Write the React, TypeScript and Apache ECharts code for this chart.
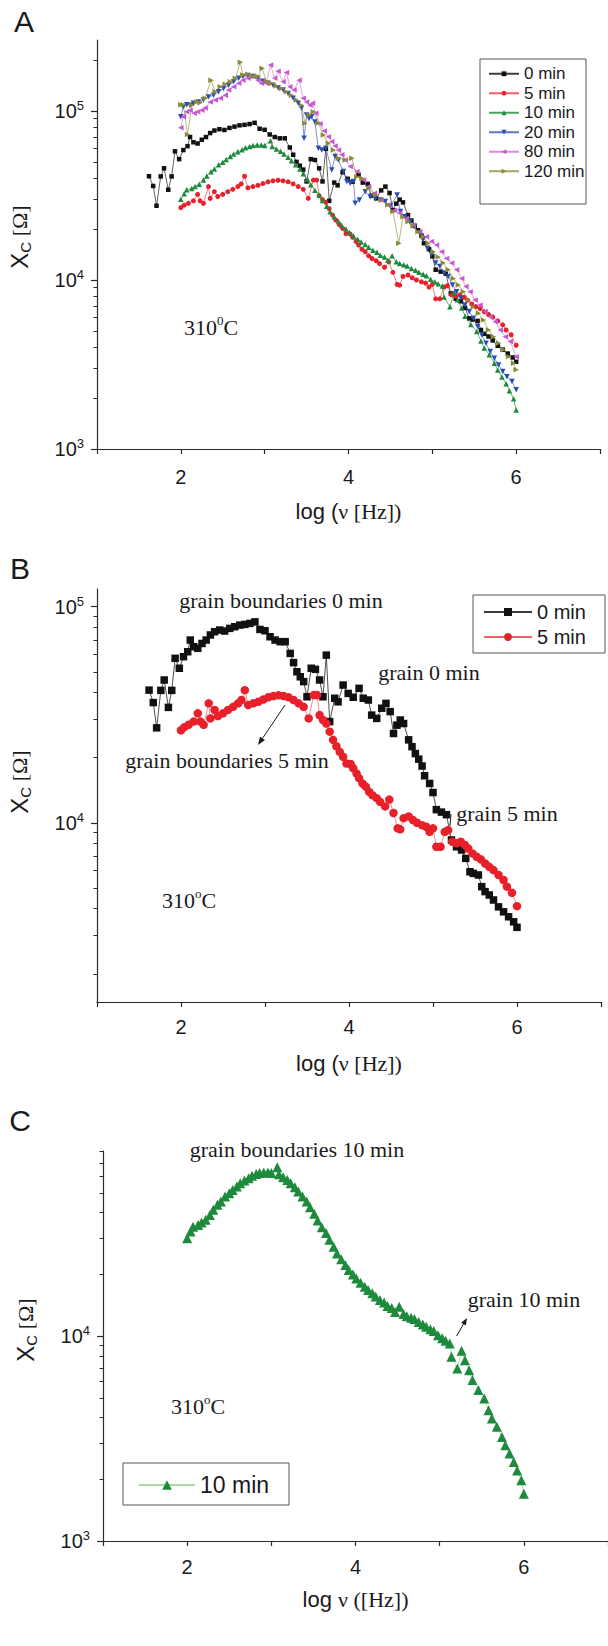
import React, { useEffect, useRef } from "react";
import * as echarts from "echarts";

// ---------- DATA: [log(frequency / Hz), X_C (Ω)] ----------
const XC_0_MIN: [number, number][] = [
  [1.62, 41100], [1.67, 36000], [1.71, 27500], [1.76, 41000], [1.8, 45800], [1.85, 34200], [1.89, 41000],
  [1.93, 57700], [1.98, 51900], [2.03, 58700], [2.08, 61900], [2.11, 70100], [2.15, 65300], [2.2, 64200],
  [2.25, 67600], [2.3, 70100], [2.35, 74000], [2.4, 76600], [2.46, 78000], [2.52, 77200], [2.58, 79400],
  [2.64, 80800], [2.7, 82200], [2.76, 82800], [2.82, 83700], [2.88, 85100], [2.94, 78500], [3.0, 77400],
  [3.06, 72600], [3.12, 70100], [3.18, 68900], [3.24, 68900], [3.3, 60800], [3.34, 55100], [3.38, 50000],
  [3.42, 47400], [3.46, 45000], [3.5, 38300], [3.55, 51900], [3.6, 51300], [3.65, 45800], [3.69, 38300],
  [3.73, 59700], [3.77, 29400], [3.83, 37700], [3.87, 36300], [3.93, 43400], [3.99, 39700], [4.05, 38100],
  [4.12, 41900], [4.17, 37700], [4.23, 37000], [4.27, 31500], [4.33, 30400], [4.39, 33900], [4.44, 35700],
  [4.49, 32700], [4.53, 25900], [4.57, 28300], [4.61, 29900], [4.65, 28800], [4.71, 24200], [4.75, 22500],
  [4.79, 20900], [4.83, 19700], [4.87, 18300], [4.9, 16500], [4.96, 15200], [5.0, 13800], [5.04, 11500],
  [5.1, 11200], [5.16, 10900], [5.22, 8320], [5.28, 7740], [5.34, 7480], [5.39, 6840], [5.44, 5930],
  [5.48, 5830], [5.54, 5730], [5.58, 5060], [5.62, 4800], [5.67, 4630], [5.72, 4390], [5.78, 4080],
  [5.84, 3870], [5.9, 3670], [5.96, 3480], [6.0, 3280],
];

const XC_5_MIN: [number, number][] = [
  [2.0, 26800], [2.04, 27700], [2.09, 28400], [2.15, 29400], [2.2, 32100], [2.23, 29400], [2.27, 28400],
  [2.33, 35700], [2.35, 30400], [2.4, 33300], [2.44, 31200], [2.5, 32100], [2.56, 33300], [2.62, 34400],
  [2.68, 35700], [2.72, 37000], [2.76, 41100], [2.8, 35100], [2.86, 35700], [2.92, 36300], [2.98, 37200],
  [3.04, 38100], [3.1, 38600], [3.16, 38900], [3.22, 38600], [3.28, 38100], [3.34, 37000], [3.4, 35700],
  [3.46, 34400], [3.52, 30400], [3.58, 39000], [3.62, 39000], [3.65, 31500], [3.69, 29900], [3.73, 28800],
  [3.77, 26400], [3.81, 24200], [3.85, 22600], [3.89, 21300], [3.93, 20200], [3.97, 18800], [4.02, 18700],
  [4.05, 17900], [4.09, 16900], [4.12, 16100], [4.16, 15200], [4.2, 14700], [4.24, 13900], [4.28, 13400],
  [4.33, 13000], [4.37, 12500], [4.43, 11900], [4.48, 12800], [4.53, 11100], [4.58, 9420], [4.61, 9320],
  [4.65, 10500], [4.71, 10700], [4.76, 10300], [4.81, 10000], [4.87, 9750], [4.92, 9580], [4.96, 9080],
  [5.0, 9420], [5.04, 7740], [5.09, 7740], [5.14, 9080], [5.18, 9250], [5.23, 8170], [5.28, 8030],
  [5.33, 8170], [5.38, 7890], [5.42, 7600], [5.47, 7210], [5.52, 6960], [5.57, 6770], [5.62, 6480],
  [5.67, 6250], [5.72, 6040], [5.78, 5730], [5.84, 5430], [5.88, 5060], [5.94, 4740], [6.0, 4110],
];

const XC_10_MIN: [number, number][] = [
  [2.0, 30000], [2.04, 32400], [2.07, 34200], [2.13, 34800], [2.17, 35800], [2.22, 36900], [2.27, 39000],
  [2.31, 41300], [2.36, 43700], [2.4, 45300], [2.45, 48000], [2.5, 49800], [2.54, 51600], [2.59, 53700],
  [2.63, 55700], [2.68, 57400], [2.73, 58900], [2.77, 60500], [2.82, 61700], [2.86, 62500], [2.91, 62900],
  [2.96, 62900], [3.0, 62400], [3.07, 66700], [3.09, 61600], [3.14, 59600], [3.19, 57800], [3.23, 55700],
  [3.28, 53200], [3.32, 50700], [3.37, 48000], [3.42, 45300], [3.46, 42500], [3.51, 39500], [3.55, 36600],
  [3.6, 34000], [3.65, 31800], [3.69, 29500], [3.74, 27300], [3.78, 25300], [3.83, 23700], [3.88, 22200],
  [3.92, 21000], [3.97, 20000], [4.01, 19100], [4.06, 18200], [4.11, 17400], [4.15, 16800], [4.2, 16200],
  [4.24, 15600], [4.29, 15000], [4.34, 14600], [4.38, 14000], [4.43, 13700], [4.47, 13100], [4.52, 13900],
  [4.57, 12800], [4.61, 12500], [4.66, 12300], [4.7, 12100], [4.75, 11700], [4.8, 11400], [4.84, 11100],
  [4.89, 10800], [4.93, 10600], [4.98, 10100], [5.03, 9750], [5.07, 9490], [5.12, 9200], [5.14, 7930],
  [5.21, 6950], [5.26, 8470], [5.3, 7630], [5.35, 6820], [5.39, 6100], [5.46, 5450], [5.53, 4960],
  [5.58, 4350], [5.62, 3960], [5.68, 3610], [5.74, 3220], [5.78, 2930], [5.83, 2670], [5.88, 2430],
  [5.92, 2210], [5.97, 1980], [6.0, 1700],
];

const XC_20_MIN: [number, number][] = [
  [2.0, 92500], [2.03, 106000], [2.07, 109000], [2.11, 108000], [2.15, 111000], [2.21, 113000], [2.27, 116000],
  [2.33, 121000], [2.39, 124000], [2.45, 130000], [2.51, 136000], [2.57, 142000], [2.63, 149000],
  [2.69, 156000], [2.74, 160000], [2.8, 162000], [2.86, 160000], [2.92, 156000], [2.98, 150000],
  [3.04, 146000], [3.1, 142000], [3.16, 137000], [3.22, 133000], [3.28, 127000], [3.34, 119000],
  [3.4, 111000], [3.44, 104000], [3.47, 68900], [3.5, 94600], [3.53, 90400], [3.56, 92500], [3.6, 86000],
  [3.64, 60100], [3.68, 58800], [3.73, 60100], [3.8, 44800], [3.84, 53700], [3.88, 51300], [3.94, 43800],
  [3.98, 38200], [4.02, 37300], [4.06, 38200], [4.08, 28400], [4.13, 29700], [4.2, 33300], [4.26, 31100],
  [4.32, 30400], [4.38, 29700], [4.44, 29100], [4.5, 27400], [4.58, 31800], [4.62, 25400], [4.67, 23700],
  [4.73, 22100], [4.79, 20700], [4.85, 18900], [4.89, 17300], [4.94, 15400], [4.99, 14100], [5.04, 12600],
  [5.09, 12000], [5.14, 11000], [5.19, 10500], [5.24, 9350], [5.29, 8530], [5.34, 7800], [5.39, 7110],
  [5.44, 6500], [5.49, 5930], [5.54, 5300], [5.59, 4730], [5.64, 4220], [5.69, 3770], [5.74, 3440],
  [5.79, 3140], [5.84, 2870], [5.89, 2680], [5.95, 2510], [6.0, 2240],
];

const XC_80_MIN: [number, number][] = [
  [2.0, 79600], [2.03, 92500], [2.07, 99100], [2.11, 101000], [2.16, 96800], [2.2, 99100], [2.25, 101000],
  [2.29, 104000], [2.35, 113000], [2.41, 116000], [2.47, 119000], [2.53, 124000], [2.57, 133000],
  [2.63, 139000], [2.69, 146000], [2.74, 152000], [2.8, 156000], [2.86, 160000], [2.92, 152000],
  [2.96, 146000], [3.02, 146000], [3.07, 187000], [3.12, 156000], [3.16, 172000], [3.22, 149000],
  [3.26, 169000], [3.3, 139000], [3.35, 133000], [3.41, 152000], [3.46, 119000], [3.5, 113000],
  [3.54, 108000], [3.57, 111000], [3.61, 96800], [3.66, 84000], [3.71, 76000], [3.76, 70500], [3.8, 65900],
  [3.84, 62000], [3.88, 58800], [3.92, 55000], [3.96, 51300], [4.02, 46900], [4.1, 43800], [4.18, 39100],
  [4.24, 35700], [4.31, 32600], [4.39, 29700], [4.47, 27800], [4.55, 25900], [4.61, 24800], [4.69, 23200],
  [4.77, 21100], [4.85, 19300], [4.93, 18000], [4.99, 16900], [5.05, 16100], [5.11, 14700], [5.17, 13400],
  [5.23, 12600], [5.29, 11500], [5.35, 10200], [5.4, 9140], [5.45, 8530], [5.51, 7620], [5.57, 7110],
  [5.63, 6500], [5.69, 6070], [5.75, 5670], [5.81, 5060], [5.87, 4620], [5.93, 4320], [6.0, 3520],
];

const XC_120_MIN: [number, number][] = [
  [2.0, 109000], [2.03, 109000], [2.08, 72600], [2.13, 108000], [2.19, 113000], [2.23, 112000],
  [2.29, 119000], [2.36, 152000], [2.41, 130000], [2.47, 139000], [2.53, 144000], [2.59, 149000],
  [2.65, 156000], [2.71, 194000], [2.74, 163000], [2.8, 165000], [2.86, 160000], [2.92, 160000],
  [2.97, 179000], [3.02, 150000], [3.08, 146000], [3.14, 141000], [3.2, 136000], [3.26, 130000],
  [3.32, 124000], [3.38, 116000], [3.44, 108000], [3.48, 84500], [3.53, 95000], [3.58, 99100], [3.64, 85000],
  [3.7, 72100], [3.76, 64400], [3.82, 58800], [3.88, 52500], [3.96, 51300], [4.04, 52500], [4.1, 40800],
  [4.16, 40000], [4.24, 34800], [4.32, 31800], [4.39, 29700], [4.47, 27800], [4.53, 25400], [4.6, 16500],
  [4.65, 23700], [4.71, 22100], [4.77, 20900], [4.83, 19300], [4.89, 18000], [4.95, 16500], [5.01, 14700],
  [5.07, 13700], [5.13, 12600], [5.19, 11500], [5.25, 10200], [5.31, 9350], [5.37, 8530], [5.43, 7620],
  [5.49, 6950], [5.55, 6350], [5.61, 5800], [5.67, 5060], [5.73, 4620], [5.79, 4220], [5.85, 3860],
  [5.91, 3520], [5.97, 3220], [6.0, 2940],
];

const X_RANGE = [1, 7];
const X_TICK_LABELS = [2, 4, 6];
const Y_RANGE_A = [1000, 263000];
const Y_RANGE_B = [1480, 120800];
const Y_RANGE_C = [1000, 80000];
const DECADES_A = [1000, 10000, 100000];
const DECADES_B = [10000, 100000];
const DECADES_C = [1000, 10000];
const MINOR_TICKS = [
  2000, 3000, 4000, 5000, 6000, 7000, 8000, 9000,
  20000, 30000, 40000, 50000, 60000, 70000, 80000, 90000, 200000,
];
const LEGEND_A = ["0 min", "5 min", "10 min", "20 min", "80 min", "120 min"];
const LEGEND_B = ["0 min", "5 min"];
const LEGEND_C = ["10 min"];

// ---------- STYLE ----------
const SANS = "'Liberation Sans', Arial, sans-serif";
const SERIF = "'Liberation Serif', 'Times New Roman', serif";
const INK = "#1a1a1a";
const AXIS = "#2a2a2a";

const STYLE: Record<string, any> = {
  "0 min": { symbol: "rect", rotate: 0, color: "#111111", line: "#3c3c3c", sizeA: 4.5 },
  "5 min": { symbol: "circle", rotate: 0, color: "#e8202a", line: "#f0606a", sizeA: 5 },
  "10 min": { symbol: "triangle", rotate: 0, color: "#1d8a3c", line: "#47a45c", sizeA: 5.5 },
  "20 min": { symbol: "triangle", rotate: 180, color: "#2a4db5", line: "#5b74c8", sizeA: 5.5 },
  "80 min": { symbol: "triangle", rotate: 90, color: "#c858d0", line: "#d98ae0", sizeA: 5.5 },
  "120 min": { symbol: "triangle", rotate: -90, color: "#8a8a32", line: "#a6a662", sizeA: 5.5 },
};

const lg = (pts: [number, number][]) => pts.map(([f, v]) => [f, Math.log10(v)]);

function xAxisFor(gridIndex: number, name: string, nameGap: number, labelMargin: number) {
  return {
    type: "value",
    gridIndex,
    min: X_RANGE[0],
    max: X_RANGE[1],
    interval: 1,
    axisLine: { show: true, onZero: false, lineStyle: { color: AXIS, width: 1.2 } },
    axisTick: { show: true, inside: false, length: 5, lineStyle: { color: AXIS, width: 1.2 } },
    splitLine: { show: false },
    axisLabel: {
      margin: labelMargin,
      fontSize: 20,
      fontFamily: SANS,
      color: INK,
      formatter: (v: number) =>
        X_TICK_LABELS.indexOf(Math.round(v)) >= 0 ? `{d|${Math.round(v)}}` : "",
      rich: { d: { fontFamily: SANS, fontSize: 20, lineHeight: 22, color: INK } },
    },
    name,
    nameLocation: "middle",
    nameGap,
    nameTextStyle: {
      fontSize: 22,
      color: INK,
      rich: {
        s: { fontFamily: SANS, fontSize: 22, color: INK },
        t: { fontFamily: SERIF, fontSize: 22, color: INK },
      },
    },
  };
}

function yAxesFor(gridIndex: number, range: number[], decades: number[], namePad: number) {
  const min = Math.log10(range[0]);
  const max = Math.log10(range[1]);
  const majors = decades.map((d) => Math.log10(d));
  const minors = MINOR_TICKS.map((m) => Math.log10(m)).filter((v) => v > min && v <= max + 1e-9);
  const major = {
    type: "value",
    gridIndex,
    position: "left",
    min,
    max,
    axisLine: { show: true, onZero: false, lineStyle: { color: AXIS, width: 1.2 } },
    axisTick: { show: true, inside: false, length: 6, customValues: majors, lineStyle: { color: AXIS, width: 1.2 } },
    splitLine: { show: false },
    axisLabel: {
      customValues: majors,
      margin: 13,
      fontSize: 20,
      color: INK,
      fontFamily: SANS,
      formatter: (v: number) => `{b|10}{s|${Math.round(v)}}`,
      rich: {
        b: { fontFamily: SANS, fontSize: 20, lineHeight: 24, color: INK },
        s: { fontFamily: SANS, fontSize: 13, lineHeight: 12, verticalAlign: "top", color: INK },
      },
    },
    name: "{x|X}{c|C}{t| [Ω]}",
    nameLocation: "middle",
    nameRotate: 90,
    nameGap: 64,
    nameTextStyle: {
      fontSize: 24,
      color: INK,
      padding: [0, 0, 0, namePad],
      rich: {
        x: { fontFamily: SANS, fontSize: 24, lineHeight: 28, color: INK },
        c: { fontFamily: SANS, fontSize: 15, lineHeight: 15, verticalAlign: "bottom", color: INK },
        t: { fontFamily: SERIF, fontSize: 22, lineHeight: 28, color: INK },
      },
    },
  };
  const minor = {
    type: "value",
    gridIndex,
    position: "left",
    min,
    max,
    axisLine: { show: false, onZero: false },
    axisTick: { show: true, inside: false, length: 3.5, customValues: minors, lineStyle: { color: AXIS, width: 1 } },
    axisLabel: { show: false },
    splitLine: { show: false },
  };
  return [major, minor];
}

function lineSeries(name: string, data: [number, number][], xAxisIndex: number, yAxisIndex: number, size: number, lineColor?: string) {
  const st = STYLE[name];
  return {
    name,
    type: "line",
    xAxisIndex,
    yAxisIndex,
    data: lg(data),
    symbol: st.symbol,
    symbolSize: size,
    symbolRotate: st.rotate,
    showSymbol: true,
    itemStyle: { color: st.color },
    lineStyle: { color: lineColor || st.line, width: 0.8 },
    emphasis: { disabled: true },
  };
}

function text(t: string, x: number, y: number, size: number, family: string, extra: any = {}) {
  return {
    type: "text",
    x,
    y,
    style: {
      text: t,
      fill: INK,
      fontSize: size,
      fontFamily: family,
      align: "center",
      verticalAlign: "middle",
      ...extra,
    },
  };
}

function tempLabel(x: number, y: number, sup: string) {
  return {
    type: "text",
    x,
    y,
    style: {
      text: `{n|310}{s|${sup}}{n|C}`,
      fill: INK,
      align: "center",
      verticalAlign: "middle",
      rich: {
        n: { fontFamily: SERIF, fontSize: 22, lineHeight: 26, fill: INK, color: INK },
        s: { fontFamily: SERIF, fontSize: 13, lineHeight: 13, verticalAlign: "top", fill: INK, color: INK },
      },
    },
  };
}

function arrow(x1: number, y1: number, x2: number, y2: number, head = 8) {
  const dx = x2 - x1;
  const dy = y2 - y1;
  const len = Math.sqrt(dx * dx + dy * dy);
  const ux = dx / len;
  const uy = dy / len;
  const bx = x2 - ux * head;
  const by = y2 - uy * head;
  const w = head * 0.38;
  return [
    { type: "line", shape: { x1, y1, x2: bx, y2: by }, style: { stroke: INK, lineWidth: 1 } },
    {
      type: "polygon",
      shape: { points: [[x2, y2], [bx - uy * w, by + ux * w], [bx + uy * w, by - ux * w]] },
      style: { fill: INK },
    },
  ];
}

function legendFor(left: number, top: number, data: any[], itemWidth: number, itemHeight: number, fontSize: number, lineHeight: number) {
  return {
    show: true,
    orient: "vertical",
    left,
    top,
    padding: 0,
    itemGap: 0,
    itemWidth,
    itemHeight,
    selectedMode: false,
    data,
    textStyle: { fontFamily: SANS, fontSize, lineHeight, color: INK },
  };
}

function buildOption() {
  const series: any[] = [
    lineSeries("0 min", XC_0_MIN, 0, 0, STYLE["0 min"].sizeA),
    lineSeries("5 min", XC_5_MIN, 0, 0, STYLE["5 min"].sizeA),
    lineSeries("10 min", XC_10_MIN, 0, 0, STYLE["10 min"].sizeA),
    lineSeries("20 min", XC_20_MIN, 0, 0, STYLE["20 min"].sizeA),
    lineSeries("80 min", XC_80_MIN, 0, 0, STYLE["80 min"].sizeA),
    lineSeries("120 min", XC_120_MIN, 0, 0, STYLE["120 min"].sizeA),
    lineSeries("0 min", XC_0_MIN, 1, 2, 7.5, "#222222"),
    lineSeries("5 min", XC_5_MIN, 1, 2, 8.5, "#f07070"),
    lineSeries("10 min", XC_10_MIN, 2, 4, 10, "#a9d9a3"),
  ];

  const graphics: any[] = [
    text("A", 24, 21, 30, SANS),
    text("B", 20, 568, 30, SANS),
    text("C", 20, 1120, 30, SANS),
    tempLabel(211, 327, "0"),
    tempLabel(189, 900, "o"),
    tempLabel(198, 1406, "o"),
    text("grain boundaries 0 min", 281, 600, 22, SERIF),
    text("grain 0 min", 429, 672, 22, SERIF),
    text("grain boundaries 5 min", 227, 760, 22, SERIF),
    text("grain 5 min", 507, 813, 22, SERIF),
    text("grain boundaries 10 min", 297, 1149, 22, SERIF),
    text("grain 10 min", 524, 1299, 22, SERIF),
    ...arrow(285, 705, 258, 745, 8),
    ...arrow(456.6, 1336, 467, 1318, 7),
    { type: "line", shape: { x1: 451, y1: 814, x2: 450, y2: 826 }, style: { stroke: INK, lineWidth: 1 } },
    { type: "rect", shape: { x: 480, y: 59, width: 106, height: 145 }, style: { fill: "none", stroke: "#555", lineWidth: 1 } },
    { type: "rect", shape: { x: 473, y: 595, width: 132, height: 58 }, style: { fill: "none", stroke: "#555", lineWidth: 1 } },
    { type: "rect", shape: { x: 123, y: 1463, width: 166, height: 42 }, style: { fill: "none", stroke: "#555", lineWidth: 1 } },
  ];

  return {
    animation: false,
    backgroundColor: "#ffffff",
    grid: [
      { left: 97, top: 40, width: 503, height: 409, outerBoundsMode: "none", containLabel: false },
      { left: 97, top: 589, width: 504, height: 413, outerBoundsMode: "none", containLabel: false },
      { left: 103, top: 1151, width: 505, height: 390, outerBoundsMode: "none", containLabel: false },
    ],
    xAxis: [
      xAxisFor(0, "{s|log (}{t|ν [Hz])}", 51, 17),
      xAxisFor(1, "{s|log (}{t|ν [Hz])}", 50, 14),
      xAxisFor(2, "{s|log }{t|ν ([Hz])}", 47, 15),
    ],
    yAxis: [
      ...yAxesFor(0, Y_RANGE_A, DECADES_A, 15),
      ...yAxesFor(1, Y_RANGE_B, DECADES_B, 27),
      ...yAxesFor(2, Y_RANGE_C, DECADES_C, 32),
    ],
    legend: [
      legendFor(488, 64, LEGEND_A, 30, 6, 17, 19.5),
      legendFor(483, 599.5, LEGEND_B, 48, 10, 20, 25),
      legendFor(138, 1472, LEGEND_C.map((n) => ({ name: n, lineStyle: { color: "#a9d9a3" } })), 56, 12, 23, 26),
    ],
    series,
    graphic: { elements: graphics },
  };
}

export default function App() {
  const ref = useRef<HTMLDivElement>(null);
  useEffect(() => {
    if (!ref.current) return;
    const chart = echarts.init(ref.current, null, { renderer: "svg" });
    chart.setOption(buildOption() as any);
    return () => chart.dispose();
  }, []);
  return (
    <div
      ref={ref}
      style={{ position: "absolute", left: 0, top: 0, width: 608, height: 1646, background: "#fff" }}
    />
  );
}
